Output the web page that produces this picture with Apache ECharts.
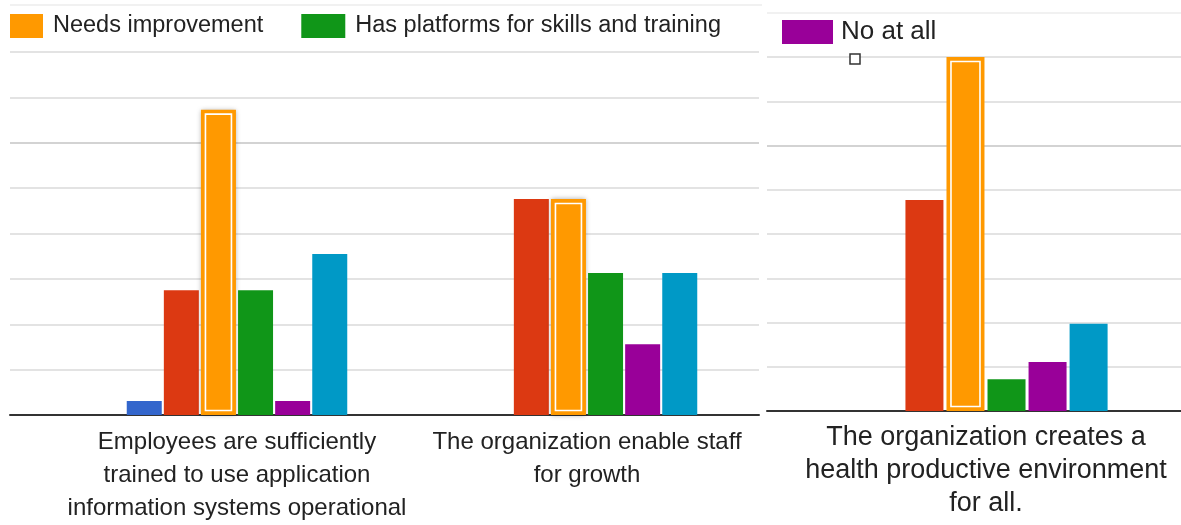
<!DOCTYPE html>
<html>
<head>
<meta charset="utf-8">
<script src="https://cdn.jsdelivr.net/npm/echarts@6.0.0/dist/echarts.min.js"></script>
<style>
  html, body { margin: 0; padding: 0; background: #fff; }
  #chart { width: 1181px; height: 525px; }
</style>
</head>
<body>
<div id="chart"></div>
<script>
// categories
var leftCategories = [
	'Employees are sufficiently\ntrained to use application\ninformation systems operational',
	'The organization enable staff\nfor growth'
];
var rightCategories = ['The organization creates a\nhealth productive environment\nfor all.'];

// series names (only three are shown in the visible legends)
var seriesNames = ['Series 1', 'Series 2', 'Needs improvement', 'Has platforms for skills and training', 'No at all', 'Series 6'];
var seriesColors = ['#3366cc', '#dc3912', '#ff9900', '#109618', '#990099', '#0099c6'];

// values, in gridline units
var blueLeft   = [0.31, 0];
var redLeft    = [2.75, 4.76];
var orangeLeft = [6.73, 4.76];
var greenLeft  = [2.75, 3.13];
var purpleLeft = [0.31, 1.56];
var tealLeft   = [3.55, 3.13];

var blueRight   = [0];
var redRight    = [4.77];
var orangeRight = [8.0];
var greenRight  = [0.72];
var purpleRight = [1.11];
var tealRight   = [1.97];

var yTicks = [0, 8, 1]; // min, max, interval

var leftData = [blueLeft, redLeft, orangeLeft, greenLeft, purpleLeft, tealLeft];
var rightData = [blueRight, redRight, orangeRight, greenRight, purpleRight, tealRight];

var font = 'Liberation Sans, Arial, sans-serif';
var gridColors = ['#dadada', '#dadada', '#dadada', '#dadada', '#dadada', '#dadada', '#c4c4c4', '#dadada', '#dadada'];

var leftBar = { w: 35, gap: 2.1 };
var rightBar = { w: 38, gap: 3.04 };

function highlightBox(xIdx, yIdx, values, bar, inset) {
	// white inner outline of the selected (orange) bar
	var offset = (2 - 2.5) * (bar.w + bar.gap);
	return {
		type: 'custom',
		xAxisIndex: xIdx,
		yAxisIndex: yIdx,
		silent: true,
		z: 5,
		data: values.map(function(v, i) { return [i, v]; }),
		renderItem: function(params, api) {
			var top = api.coord([api.value(0), api.value(1)]);
			var base = api.coord([api.value(0), 0]);
			var x = top[0] + offset - bar.w / 2 + inset;
			return {
				type: 'rect',
				shape: { x: x, y: top[1] + inset, width: bar.w - inset * 2, height: base[1] - top[1] - inset * 2 },
				style: { fill: null, stroke: '#ffffff', lineWidth: 1.6 }
			};
		}
	};
}

function backAxes(gridIndex) {
	// gridlines + baseline of one panel
	return {
		x: {
			gridIndex: gridIndex,
			type: 'category',
			data: [''],
			axisLine: { lineStyle: { color: '#333', width: 2 } },
			axisTick: { show: false },
			axisLabel: { show: false }
		},
		y: {
			gridIndex: gridIndex,
			type: 'value',
			min: yTicks[0], max: yTicks[1], interval: yTicks[2],
			axisLabel: { show: false },
			axisLine: { show: false },
			axisTick: { show: false },
			splitLine: { lineStyle: { color: gridColors, width: 1.5 } }
		}
	};
}

function barAxes(gridIndex, cats, fontSize, margin) {
	return {
		x: {
			gridIndex: gridIndex,
			type: 'category',
			data: cats,
			axisLine: { show: false },
			axisTick: { show: false },
			axisLabel: { fontSize: fontSize, lineHeight: 33, color: '#222', fontFamily: font, margin: margin, interval: 0 }
		},
		y: {
			gridIndex: gridIndex,
			type: 'value',
			min: yTicks[0], max: yTicks[1], interval: yTicks[2],
			show: false,
			splitLine: { show: false }
		}
	};
}

var series = [];
seriesNames.forEach(function(name, i) {
	var isOrange = i == 2;
	series.push({
		name: name,
		type: 'bar',
		xAxisIndex: 1,
		yAxisIndex: 1,
		barWidth: leftBar.w,
		barGap: (leftBar.gap / leftBar.w * 100) + '%',
		itemStyle: isOrange ? { color: seriesColors[i], shadowBlur: 5, shadowColor: 'rgba(0,0,0,0.35)' } : { color: seriesColors[i] },
		data: leftData[i]
	});
	series.push({
		name: name,
		type: 'bar',
		xAxisIndex: 3,
		yAxisIndex: 3,
		barWidth: rightBar.w,
		barGap: (rightBar.gap / rightBar.w * 100) + '%',
		itemStyle: { color: seriesColors[i] },
		data: rightData[i]
	});
});
series.push(highlightBox(1, 1, orangeLeft, leftBar, 4.5));
series.push(highlightBox(3, 3, orangeRight, rightBar, 4.5));

var a0 = backAxes(0), a1 = barAxes(1, leftCategories, 24, 11);
var a2 = backAxes(2), a3 = barAxes(3, rightCategories, 27, 10);

var myChart = echarts.init(document.getElementById('chart'));

var option = {
	animation: false,
	color: seriesColors,
	legend: [{
		data: ['Needs improvement', 'Has platforms for skills and training'],
		left: -1,
		top: 14,
		icon: 'rect',
		itemWidth: 44,
		itemHeight: 24,
		itemGap: 38,
		padding: 0,
		textStyle: { fontSize: 23.5, color: '#222', fontFamily: font, padding: [0, 0, 0, 5] }
	}, {
		data: ['No at all'],
		left: 782,
		top: 19,
		icon: 'rect',
		itemWidth: 51,
		itemHeight: 24,
		padding: 0,
		textStyle: { fontSize: 26, color: '#222', fontFamily: font, padding: [0, 0, 0, 3] }
	}],
	grid: [
		{ left: 10, width: 749, top: 52, height: 363 },
		{ left: 62, width: 700, top: 52, height: 363 },
		{ left: 767, width: 414, top: 57, height: 354 },
		{ left: 791, width: 390, top: 57, height: 354 }
	],
	xAxis: [a0.x, a1.x, a2.x, a3.x],
	yAxis: [a0.y, a1.y, a2.y, a3.y],
	graphic: [
		{ type: 'rect', shape: { x: 0, y: 0, width: 10, height: 60 }, style: { fill: '#fff' }, z: 100 },
		{ type: 'line', shape: { x1: 10, y1: 5, x2: 762, y2: 5 }, style: { stroke: '#ececec', lineWidth: 1.5 }, z: 100 },
		{ type: 'line', shape: { x1: 767, y1: 13, x2: 1181, y2: 13 }, style: { stroke: '#ececec', lineWidth: 1.5 }, z: 100 },
		{ type: 'rect', shape: { x: 850, y: 54, width: 10, height: 10 }, style: { fill: '#fff', stroke: '#333', lineWidth: 1.5 }, z: 100 }
	],
	series: series
};

myChart.setOption(option);
</script>
</body>
</html>
